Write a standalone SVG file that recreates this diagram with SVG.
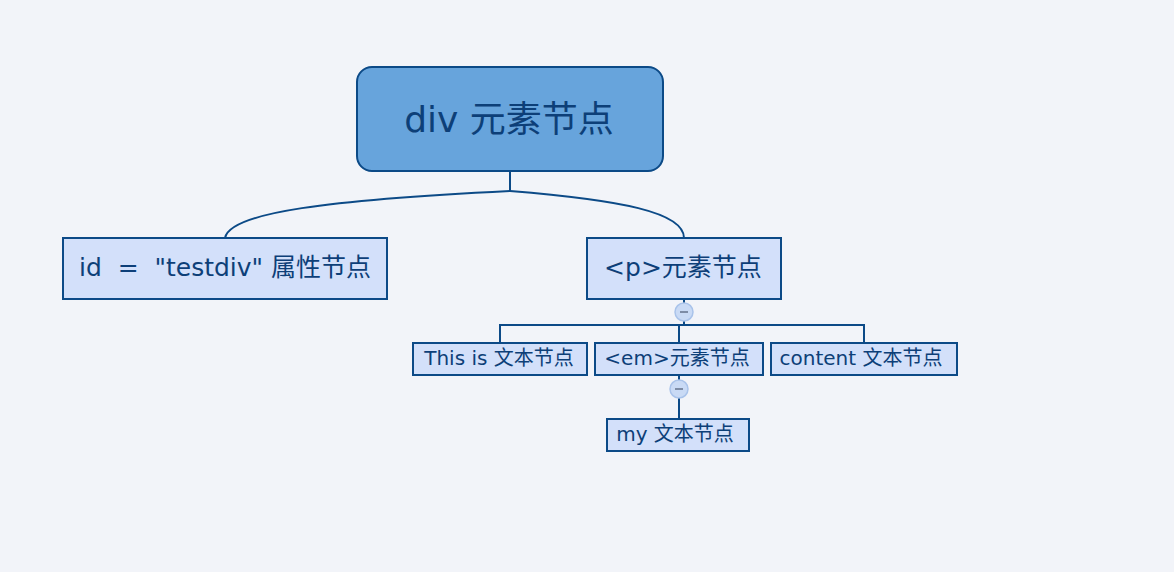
<svg xmlns="http://www.w3.org/2000/svg" width="1174" height="572" viewBox="0 0 1174 572">
<style>
text{font-family:"DejaVu Sans","Noto Sans CJK SC",sans-serif;fill:#0d3f78;text-anchor:middle;dominant-baseline:central}
.n{fill:#d3e0fa;stroke:#0c4a87;stroke-width:2}
.c{fill:none;stroke:#0c4a87;stroke-width:2}
.t{fill:#c9daf5;stroke:#a9c3ea;stroke-width:1.5}
.m{stroke:#7d8ca6;stroke-width:2}
</style>
<rect width="1174" height="572" fill="#f2f4f9"/>
<g id="connectors">
<path class="c" d="M510,171 V191"/>
<path class="c" d="M510,191 C330,200 230,212 225,238"/>
<path class="c" d="M510,191 C620,200 684,212 684,238"/>
<path class="c" d="M684,299 V303 M684,321 V325 M500,343 V325 H864 V343 M679,325 V343"/>
<path class="c" d="M679,375 V380 M679,398 V419"/>
</g>
<g id="root">
<rect x="357" y="67" width="306" height="104" rx="15" fill="#67a4dc" stroke="#0c4a87" stroke-width="2"/>
<text x="509" y="119" font-size="36">div 元素节点</text>
</g>
<g id="attr">
<rect class="n" x="63" y="238" width="324" height="61"/>
<text x="225" y="267" font-size="25" xml:space="preserve">id  =  "testdiv" 属性节点</text>
</g>
<g id="p">
<rect class="n" x="587" y="238" width="194" height="61"/>
<text x="683" y="267" font-size="25">&lt;p&gt;元素节点</text>
</g>
<g id="toggle-p">
<circle class="t" cx="684" cy="312" r="9"/>
<line class="m" x1="680" y1="312" x2="688" y2="312"/>
</g>
<g id="this-is">
<rect class="n" x="413" y="343" width="174" height="32"/>
<text x="499" y="358" font-size="20">This is 文本节点</text>
</g>
<g id="em">
<rect class="n" x="595" y="343" width="168" height="32"/>
<text x="677" y="358" font-size="20">&lt;em&gt;元素节点</text>
</g>
<g id="content">
<rect class="n" x="771" y="343" width="186" height="32"/>
<text x="861" y="358" font-size="20">content 文本节点</text>
</g>
<g id="toggle-em">
<circle class="t" cx="679" cy="389" r="9"/>
<line class="m" x1="675" y1="389" x2="683" y2="389"/>
</g>
<g id="my">
<rect class="n" x="607" y="419" width="142" height="32"/>
<text x="675" y="434" font-size="20">my 文本节点</text>
</g>
</svg>
